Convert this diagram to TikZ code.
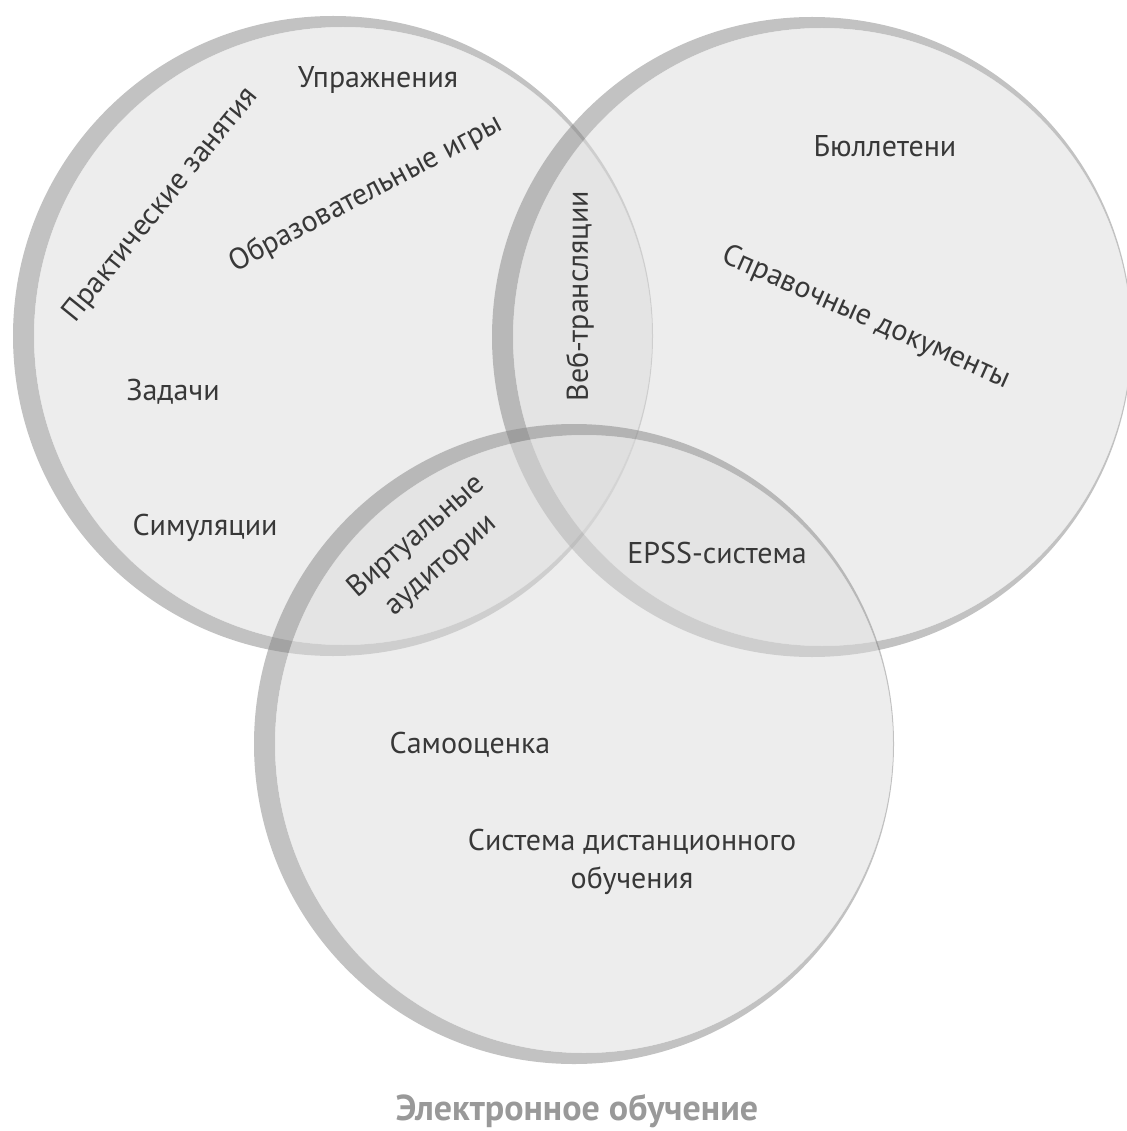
\documentclass[tikz,border=0pt]{standalone}
\usepackage{fontspec}
\setmainfont{PT Sans}
\begin{document}
\begin{tikzpicture}[x=1pt,y=-1pt,
  crescent/.style={fill=black!48, fill opacity=0.5, even odd rule},
  disc/.style={fill=black!14, fill opacity=0.5},
  lbl/.style={text=black!78, font=\fontsize{30}{38}\selectfont, inner sep=0pt, align=center},
  ttl/.style={text=black!40, font=\bfseries\fontsize{36}{40}\selectfont, inner sep=0pt}]
\useasboundingbox (0,0) rectangle (1126,1131);
% circles
\fill[crescent] (333,336) circle[radius=320] (343,336) circle[radius=309];
\fill[disc] (343,336) circle[radius=309];
\fill[crescent] (812,337) circle[radius=320] (822,337) circle[radius=309];
\fill[disc] (822,337) circle[radius=309];
\fill[crescent] (574,744) circle[radius=320] (584,744) circle[radius=309];
\fill[disc] (584,744) circle[radius=309];
% labels
\node[lbl] (upr) at (378,80) {Упражнения};
\node[lbl, rotate=51] (prak) at (161,205) {Практические занятия};
\node[lbl, rotate=28] (obr) at (366,194) {Образовательные игры};
\node[lbl] (zad) at (173,392) {Задачи};
\node[lbl] (sim) at (205,528) {Симуляции};
\node[lbl, rotate=90] (veb) at (580,296) {Веб-трансляции};
\node[lbl] (bul) at (885,146) {Бюллетени};
\node[lbl, rotate=-24] (spr) at (866,318) {Справочные документы};
\node[lbl, rotate=41] (virt) at (429,551) {Виртуальные\\аудитории};
\node[lbl] (epss) at (717,553) {EPSS-система};
\node[lbl] (samo) at (470,745) {Самооценка};
\node[lbl] (sdo) at (632,862) {Система дистанционного\\обучения};
\node[ttl] (title) at (577,1111) {Электронное обучение};
\end{tikzpicture}
\end{document}
